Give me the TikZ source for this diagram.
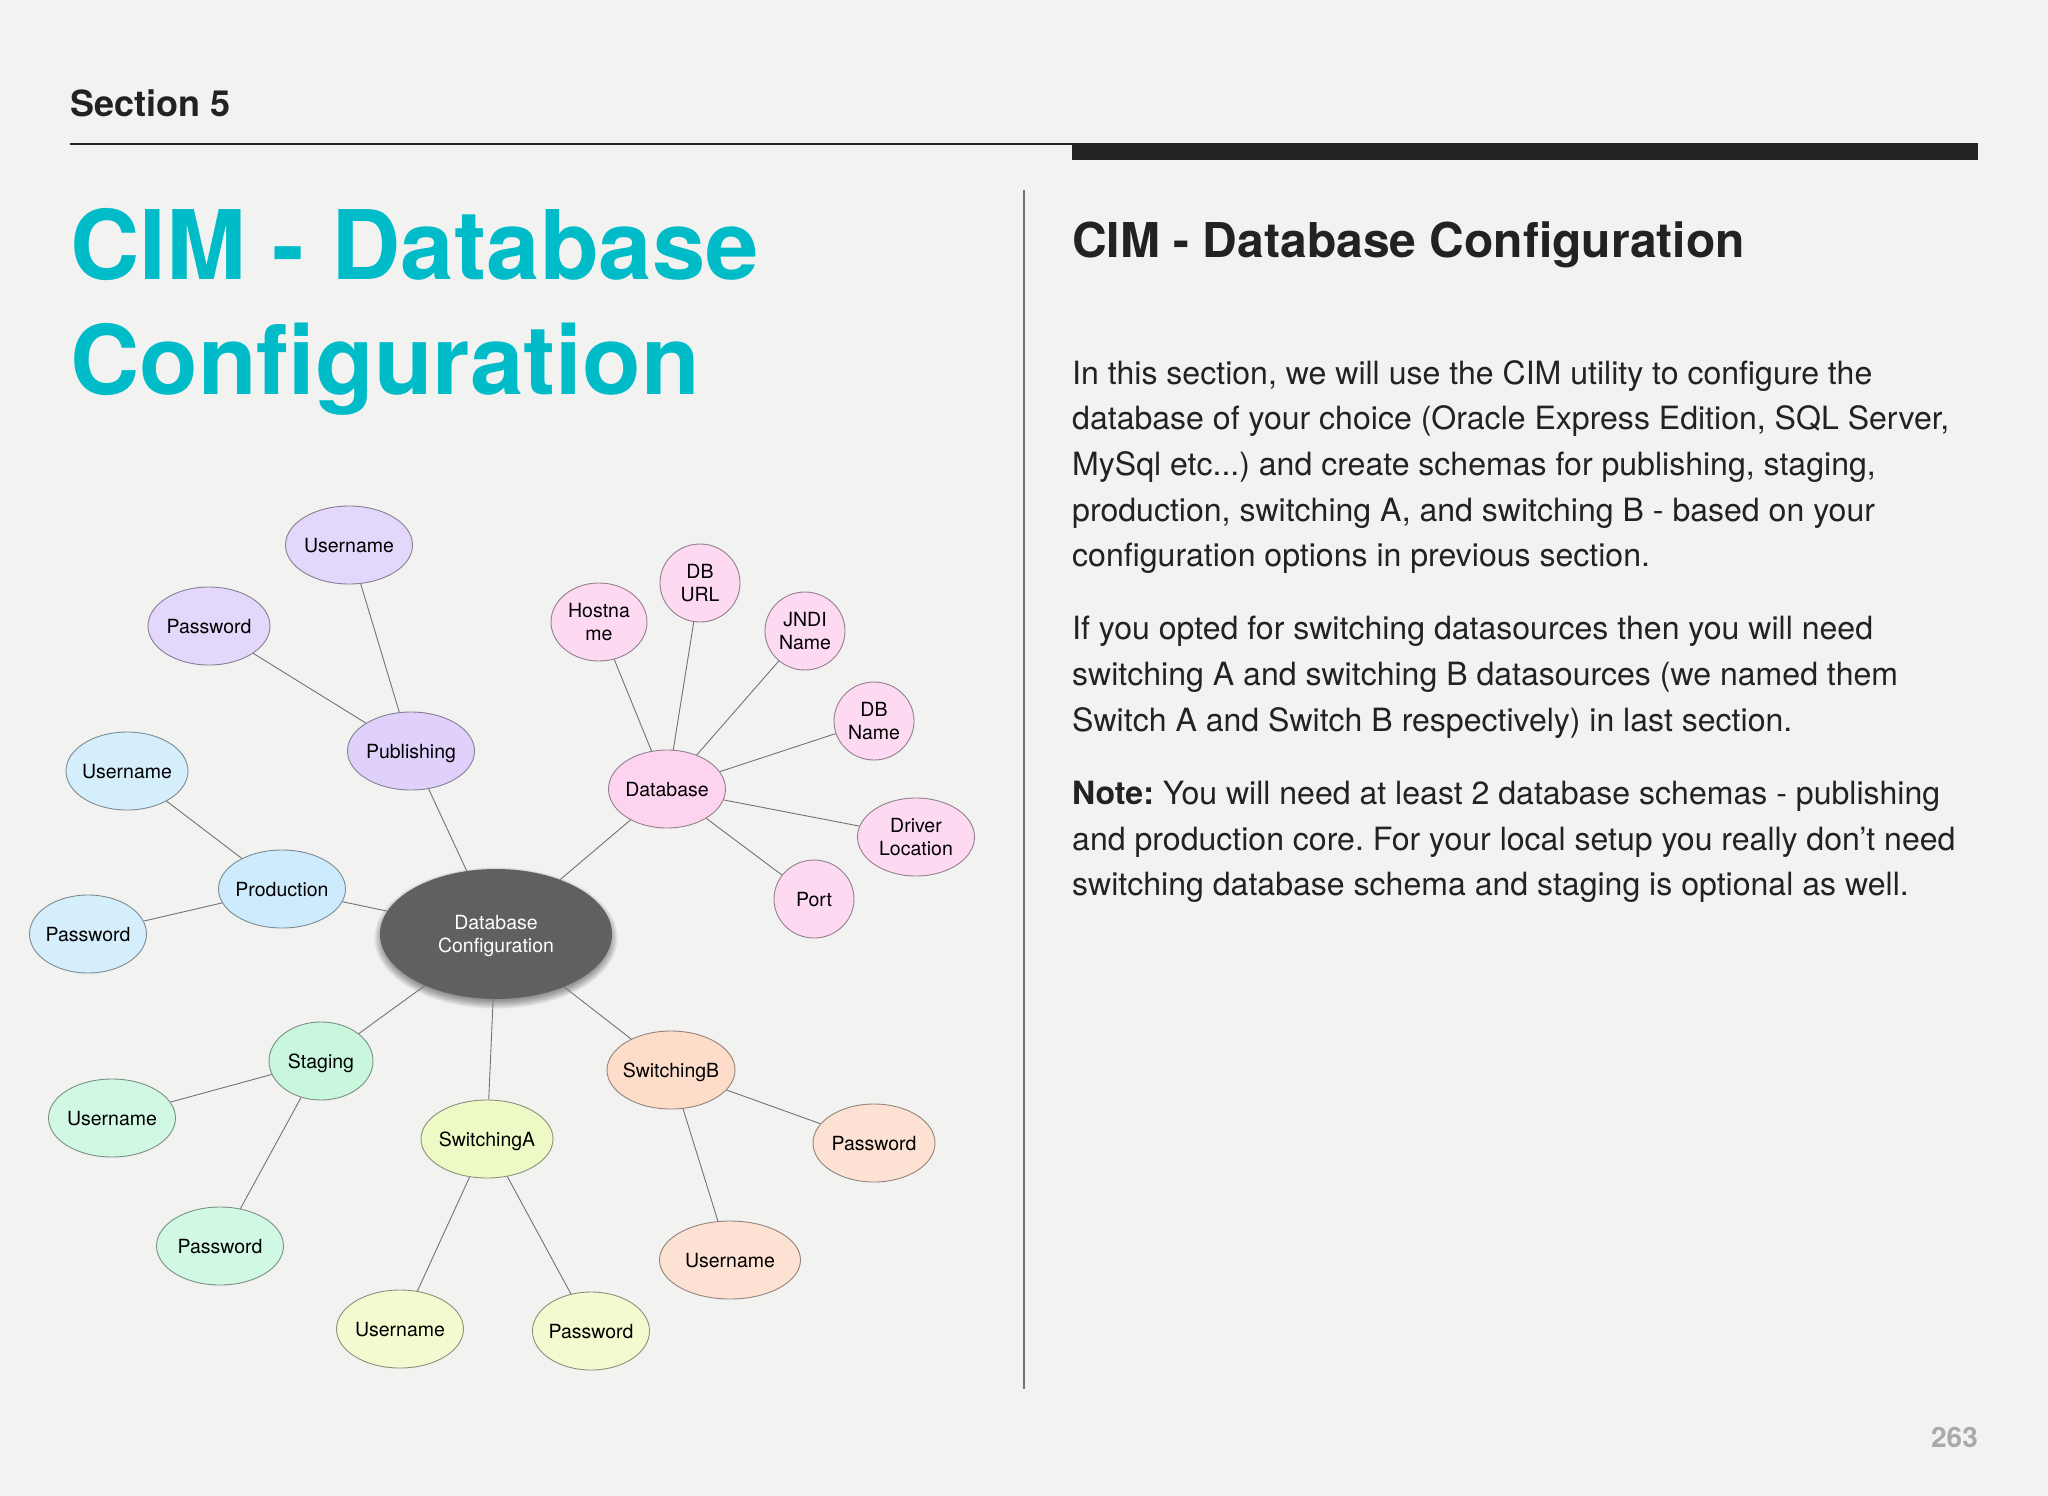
\documentclass[tikz,border=0pt]{standalone}
\usepackage{fontspec}
\setmainfont{TeX Gyre Heros}
\usepackage{color}
\usetikzlibrary{
    shapes.geometric,
}
\frenchspacing
\definecolor{paper}{HTML}{F2F2F1}
\definecolor{inkdark}{HTML}{222222}
\definecolor{titlecyan}{HTML}{00BCC8}
\definecolor{pagegray}{HTML}{AAAAAA}
\definecolor{hubgray}{HTML}{625F63}
\definecolor{purplefill}{HTML}{DFD0FC}
\definecolor{pinkfill}{HTML}{FDD3EF}
\definecolor{bluefill}{HTML}{CDEBFC}
\definecolor{greenfill}{HTML}{C8F7DE}
\definecolor{yellowfill}{HTML}{EEFAC6}
\definecolor{orangefill}{HTML}{FDDCCA}

\begin{document}
\begin{tikzpicture}[
    x=1pt,y=-1pt,
    bubble/.style={draw=#1!50!black!85, fill=#1, ellipse, line width=0.9pt, inner xsep=-4pt, inner ysep=0pt,
                align=center, minimum height=78pt, text=black, text depth=0pt,
                font=\fontsize{19.5}{23.5}\selectfont},
    leaf/.style={bubble=#1, fill=#1!85!white},
    hub/.style={ellipse, fill=hubgray, inner sep=0pt, align=center, text=white, text depth=0pt,
                minimum width=232pt, minimum height=130pt, font=\fontsize{19.5}{23.5}\selectfont},
    link/.style={draw=black!55, line width=0.9pt},
    body/.style={anchor=north west, inner sep=0pt, align=left, text=inkdark, font=\fontsize{32.05}{45.7}\selectfont},
]

% Page
\fill[paper] (0,0) rectangle (2048,1496);
\useasboundingbox (0,0) rectangle (2048,1496);

% Header
\node[anchor=west, inner sep=0pt, text=inkdark, font=\fontsize{36}{40}\selectfont\bfseries] at (70,103) (Section) {Section 5};
\coordinate (RuleLeft) at (70,144);
\coordinate (RuleRight) at (1978,144);
\coordinate (BarLeft) at (1072,143);
\coordinate (BarRight) at (1978,160);
\coordinate (DividerTop) at (1024,190);
\coordinate (DividerBottom) at (1024,1389);
\draw[inkdark, line width=1.6pt] (RuleLeft) -- (RuleRight);
\fill[inkdark] (BarLeft) rectangle (BarRight);
\draw[black!55, line width=1.3pt] (DividerTop) -- (DividerBottom);

% Title
\node[anchor=north west, inner sep=0pt, align=left, text=titlecyan, font=\fontsize{96}{115}\selectfont\bfseries] at (70,208) (Title) {CIM - Database\\Configuration};

% Right column
\node[anchor=west, inner sep=0pt, text=inkdark, font=\fontsize{48}{54}\selectfont\bfseries] at (1072,245) (Heading) {CIM - Database Configuration};
\node[body] at (1072,360) (ParaOne) {In this section, we will use the CIM utility to configure the\\database of your choice (Oracle Express Edition, SQL Server,\\MySql etc...) and create schemas for publishing, staging,\\production, switching A, and switching B - based on your\\configuration options in previous section.};
\node[body] at (1072,616) (ParaTwo) {If you opted for switching datasources then you will need\\switching A and switching B datasources (we named them\\Switch A and Switch B respectively) in last section.};
\node[body] at (1072,781) (ParaThree) {\textbf{Note:} You will need at least 2 database schemas - publishing\\and production core. For your local setup you really don’t need\\switching database schema and staging is optional as well.};
\node[anchor=east, inner sep=0pt, text=pagegray, font=\fontsize{28}{30}\selectfont\bfseries] at (1978,1437) (PageNo) {263};

% Hub shadow
\foreach \spread in {9,8.5,...,0}
    \fill[black, opacity=0.022] (496,938) ellipse ({113+\spread} and {62+\spread});

% Hub
\node[hub] at (496,934) (Hub) {Database\\Configuration};

% Publishing
\node[bubble=purplefill, minimum width=127pt] at (411,751) (Publishing) {Publishing};
\node[leaf=purplefill, minimum width=127pt] at (349,545) (PubUser) {Username};
\node[leaf=purplefill, minimum width=122pt] at (209,626) (PubPass) {Password};

% Database
\node[bubble=pinkfill, minimum width=117pt] at (667,789) (Database) {Database};
\node[leaf=pinkfill, minimum width=96pt] at (599,622) (Hostname) {Hostna\\me};
\node[leaf=pinkfill, minimum width=80pt] at (700,583) (DbUrl) {DB\\URL};
\node[leaf=pinkfill, minimum width=80pt] at (805,631) (JndiName) {JNDI\\Name};
\node[leaf=pinkfill, minimum width=80pt] at (874,721) (DbName) {DB\\Name};
\node[leaf=pinkfill, minimum width=117pt] at (916,837) (Driver) {Driver\\Location};
\node[leaf=pinkfill, minimum width=80pt] at (814,899) (Port) {Port};

% Production
\node[bubble=bluefill, minimum width=127pt] at (282,889) (Production) {Production};
\node[leaf=bluefill, minimum width=122pt] at (127,771) (ProdUser) {Username};
\node[leaf=bluefill, minimum width=117pt] at (88,934) (ProdPass) {Password};

% Staging
\node[bubble=greenfill, minimum width=104pt] at (321,1061) (Staging) {Staging};
\node[leaf=greenfill, minimum width=127pt] at (112,1118) (StageUser) {Username};
\node[leaf=greenfill, minimum width=127pt] at (220,1246) (StagePass) {Password};

% SwitchingA
\node[bubble=yellowfill, minimum width=132pt] at (487,1139) (SwitchA) {SwitchingA};
\node[leaf=yellowfill, minimum width=127pt] at (400,1329) (SwitchAUser) {Username};
\node[leaf=yellowfill, minimum width=117pt] at (591,1331) (SwitchAPass) {Password};

% SwitchingB
\node[bubble=orangefill, minimum width=128pt] at (671,1070) (SwitchB) {SwitchingB};
\node[leaf=orangefill, minimum width=122pt] at (874,1143) (SwitchBPass) {Password};
\node[leaf=orangefill, minimum width=141pt] at (730,1260) (SwitchBUser) {Username};

% Lines
\foreach \from/\to in {Hub/Publishing, Hub/Database, Hub/Production, Hub/Staging, Hub/SwitchA, Hub/SwitchB,
    Publishing/PubUser, Publishing/PubPass,
    Database/Hostname, Database/DbUrl, Database/JndiName, Database/DbName, Database/Driver, Database/Port,
    Production/ProdUser, Production/ProdPass,
    Staging/StageUser, Staging/StagePass,
    SwitchA/SwitchAUser, SwitchA/SwitchAPass,
    SwitchB/SwitchBPass, SwitchB/SwitchBUser}
    \draw[link] (\from) -- (\to);

\end{tikzpicture}
\end{document}
